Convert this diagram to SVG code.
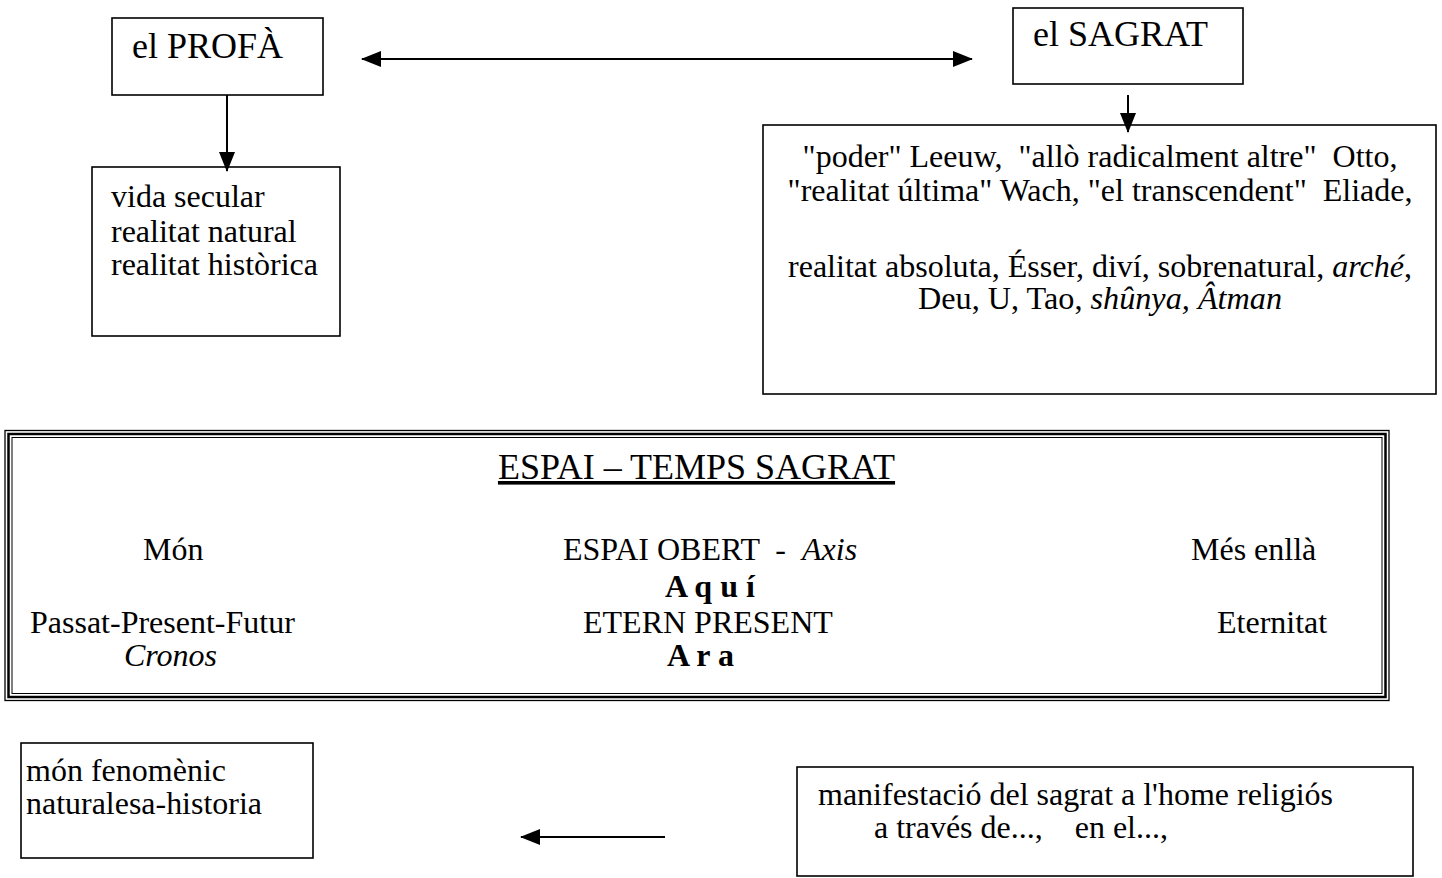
<svg xmlns="http://www.w3.org/2000/svg" width="1442" height="878" viewBox="0 0 1442 878">
<style>
text{font-family:"Liberation Serif","Times New Roman",serif;font-size:32px;fill:#000;white-space:pre}
.big{font-size:36px}
.tight{font-size:31px}
.box{fill:#fff;stroke:#000;stroke-width:1.6}
.conn{stroke:#000;stroke-width:2;fill:none}
.i{font-style:italic}
.b{font-weight:bold}
</style>
<defs>
<marker id="ah" viewBox="0 0 20 16" refX="19" refY="8" markerWidth="20" markerHeight="16" markerUnits="userSpaceOnUse" orient="auto-start-reverse">
<path d="M0,0 L20,8 L0,16 z" fill="#000"/>
</marker>
</defs>
<rect width="1442" height="878" fill="#fff"/>

<g id="profa">
<rect class="box" x="112" y="18" width="211" height="77"/>
<text class="big" x="132" y="58">el PROFÀ</text>
</g>

<g id="sagrat">
<rect class="box" x="1013" y="8" width="230" height="76"/>
<text class="big" x="1033" y="46">el SAGRAT</text>
</g>

<g id="vida">
<rect class="box" x="92" y="167" width="248" height="169"/>
<text x="111" y="207">vida secular</text>
<text x="111" y="242">realitat natural</text>
<text x="111" y="275">realitat històrica</text>
</g>

<g id="definicions">
<rect class="box" x="763" y="125" width="673" height="269"/>
<text x="1100" y="167" text-anchor="middle">"poder" Leeuw,  "allò radicalment altre"  Otto,</text>
<text x="1100" y="201" text-anchor="middle">"realitat última" Wach, "el transcendent"  Eliade,</text>
<text class="tight" x="1100" y="277" text-anchor="middle" textLength="624" lengthAdjust="spacingAndGlyphs">realitat absoluta, Ésser, diví, sobrenatural, <tspan class="i">arché</tspan>,</text>
<text class="tight" x="1100" y="309" text-anchor="middle" textLength="364" lengthAdjust="spacingAndGlyphs">Deu, U, Tao, <tspan class="i">shûnya, Âtman</tspan></text>
</g>

<g id="espai-temps">
<rect x="5" y="430.5" width="1384" height="270" fill="#fff" stroke="#000" stroke-width="1.3"/>
<rect x="8.5" y="434" width="1377" height="263" fill="none" stroke="#000" stroke-width="2.5"/>
<rect x="12" y="437.5" width="1370" height="256" fill="none" stroke="#000" stroke-width="1"/>
<text x="696.5" y="479" class="big" text-anchor="middle" text-decoration="underline">ESPAI – TEMPS SAGRAT</text>
<text x="143" y="560">Món</text>
<text x="563" y="560">ESPAI OBERT  -  <tspan class="i">Axis</tspan></text>
<text x="1191" y="560">Més enllà</text>
<text x="665" y="597" class="b">A q u í</text>
<text x="30" y="633">Passat-Present-Futur</text>
<text x="583" y="633">ETERN PRESENT</text>
<text x="1217" y="633">Eternitat</text>
<text x="124" y="666" class="i">Cronos</text>
<text x="667" y="666" class="b">A r a</text>
</g>

<g id="mon">
<rect class="box" x="21" y="743" width="292" height="115"/>
<text class="tight" x="26" y="781" textLength="200" lengthAdjust="spacingAndGlyphs">món fenomènic</text>
<text class="tight" x="26" y="814" textLength="236" lengthAdjust="spacingAndGlyphs">naturalesa-historia</text>
</g>

<g id="manifestacio">
<rect class="box" x="797" y="767" width="616" height="109"/>
<text class="tight" x="818" y="805" textLength="515" lengthAdjust="spacingAndGlyphs">manifestació del sagrat a l'home religiós</text>
<text class="tight" x="874" y="838" textLength="294" lengthAdjust="spacingAndGlyphs">a través de...,    en el...,</text>
</g>

<g id="connectors">
<line class="conn" x1="362" y1="59" x2="972" y2="59" marker-start="url(#ah)" marker-end="url(#ah)"/>
<line class="conn" x1="227" y1="95" x2="227" y2="171" marker-end="url(#ah)"/>
<line class="conn" x1="1128" y1="95" x2="1128" y2="132" marker-end="url(#ah)"/>
<line class="conn" x1="665" y1="837" x2="521" y2="837" marker-end="url(#ah)"/>
</g>
</svg>
